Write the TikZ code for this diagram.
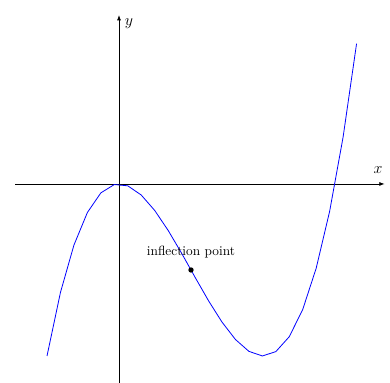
\documentclass[tikz,border=0pt]{standalone}
\usepackage{tikz}
\usetikzlibrary{arrows.meta,calc,positioning}
\usepackage{xcolor}

\begin{document}
\begin{tikzpicture}[x=54pt,y=32.25pt,>={Latex[length=4pt,width=3pt]}]
\useasboundingbox (-1.653,-4.628) rectangle (3.764,4.279);
\draw[->,semithick] (-1.44,0)--(3.69,0);
\draw[->,semithick] (0,-4.63)--(0,3.93);
\node[font=\large] (xlab) at (3.6,0.33) {$x$};
\node[font=\large] (ylab) at (0.14,3.72) {$y$};
\draw[domain=-1:3.3,samples=24,variable=\x,blue,semithick] plot ({\x},{\x*\x*\x-3*\x*\x});
\coordinate (infl) at (1,-2);
\fill (infl) circle (2pt);
\node (infllab) at (1,-1.58) {inflection point};
\end{tikzpicture}
\end{document}
